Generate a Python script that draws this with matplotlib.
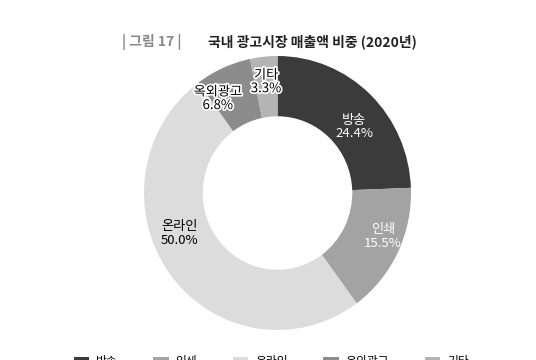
import matplotlib.pyplot as plt
from matplotlib.patches import Patch
import matplotlib.patheffects as pe
import numpy as np

plt.rcParams['font.family'] = ['Noto Sans CJK KR', 'DejaVu Sans']

labels = ['방송', '인쇄', '온라인', '옥외광고', '기타']
values = [24.4, 15.5, 50.0, 6.8, 3.3]
colors = ['#3b3b3b', '#a3a3a3', '#dcdcdc', '#8c8c8c', '#b4b4b4']
text_colors = ['white', 'white', 'black', 'black', 'black']
# label placement (radius fraction, angle in degrees)
label_r = [0.75, 0.85, 0.79, 0.82, 0.815]
label_ang = [40, -22, 202, 123, 96]

fig = plt.figure(figsize=(5.36, 3.6), dpi=100)
ax = fig.add_axes([144 / 536, 1 - 330 / 360, 267 / 536, 274 / 360])

wedges, _ = ax.pie(values, colors=colors, startangle=90, counterclock=False,
                   radius=1.0, wedgeprops=dict(width=0.44, edgecolor='none'))
ax.set_xlim(-1, 1)
ax.set_ylim(-1, 1)
ax.set_aspect('auto')

for lab, v, tc, r, a in zip(labels, values, text_colors, label_r, label_ang):
    x, y = r * np.cos(np.deg2rad(a)), r * np.sin(np.deg2rad(a))
    t = ax.text(x, y, f'{lab}\n{v:.1f}%', ha='center', va='center', color=tc,
                fontsize=9.5, linespacing=1.05, fontweight='medium')
    if lab in ('옥외광고', '기타'):
        t.set_path_effects([pe.withStroke(linewidth=2.5, foreground='white')])

fig.text(122 / 536, 1 - 42 / 360, '| 그림 17 |', color='#888888', fontsize=10,
         fontweight='bold', ha='left', va='center')
fig.text(208 / 536, 1 - 42 / 360, '국내 광고시장 매출액 비중 (2020년)', color='#222222',
         fontsize=10, fontweight='bold', ha='left', va='center')

handles = [Patch(facecolor=c) for c in colors]
fig.legend(handles, labels, loc='center', bbox_to_anchor=(0.506, 1 - 361 / 360),
           ncol=5, frameon=False, fontsize=8.5, handlelength=1.3, handleheight=0.4,
           handletextpad=0.6, columnspacing=3.0)

fig.savefig('out.png', dpi=100)
